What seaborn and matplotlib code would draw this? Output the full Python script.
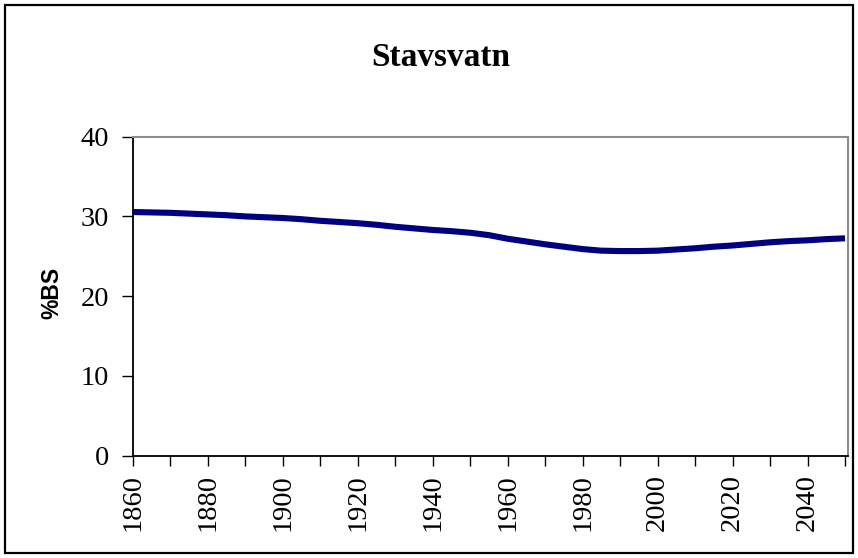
import matplotlib
matplotlib.use("Agg")
import matplotlib.pyplot as plt
from matplotlib.patches import Rectangle
import numpy as np
import pandas as pd
import seaborn as sns

# Stavsvatn: %BS (base saturation) over time
years = [1860, 1865, 1870, 1875, 1880, 1885, 1890, 1895, 1900, 1905,
         1910, 1915, 1920, 1925, 1930, 1935, 1940, 1945, 1950, 1955,
         1960, 1965, 1970, 1975, 1980, 1985, 1990, 1995, 2000, 2005,
         2010, 2015, 2020, 2025, 2030, 2035, 2040, 2045, 2050]
bs_percent = [30.55, 30.50, 30.45, 30.35, 30.25, 30.15, 30.00, 29.90, 29.80, 29.65,
              29.45, 29.30, 29.15, 28.95, 28.70, 28.50, 28.30, 28.15, 27.95, 27.65,
              27.20, 26.85, 26.50, 26.20, 25.90, 25.70, 25.65, 25.65, 25.70, 25.85,
              26.00, 26.20, 26.35, 26.55, 26.75, 26.90, 27.00, 27.15, 27.25]
y_ticks = [0, 10, 20, 30, 40]
x_major = [1860, 1880, 1900, 1920, 1940, 1960, 1980, 2000, 2020, 2040]
x_minor = [1870, 1890, 1910, 1930, 1950, 1970, 1990, 2010, 2030, 2050]
title = "Stavsvatn"
y_label = "%BS"

df = pd.DataFrame({"year": years, "bs": bs_percent})

sns.set_theme(style="white")
plt.rcParams["font.family"] = ["Liberation Serif", "DejaVu Serif"]

W, H = 858, 558
fig = plt.figure(figsize=(W / 100, H / 100), dpi=100)
fig.patch.set_facecolor("white")

left, right, top, bottom = 132.7, 848.0, 136.7, 455.5
ax = fig.add_axes([left / W, 1 - bottom / H, (right - left) / W, (bottom - top) / H])

sns.lineplot(data=df, x="year", y="bs", ax=ax, color="#000080",
             linewidth=4.4, solid_capstyle="butt", solid_joinstyle="round")

ax.set_xlim(1860, 2050.8)
ax.set_ylim(0, 40)
ax.set_yticks(y_ticks)
ax.set_yticklabels([str(v) for v in y_ticks])
ax.set_xticks(x_major)
ax.set_xticklabels([str(v) for v in x_major], rotation=90)
ax.set_xticks(x_minor, minor=True)

ax.tick_params(axis="y", which="major", direction="out", length=8, width=1.0,
               color="black", pad=9, labelsize=20.5, left=True)
ax.tick_params(axis="x", which="major", direction="out", length=7, width=1.0,
               color="black", pad=6.5, labelsize=20.5, bottom=True)
ax.tick_params(axis="x", which="minor", direction="out", length=7, width=1.0,
               color="black", bottom=True)
for lab in ax.get_xticklabels() + ax.get_yticklabels():
    lab.set_color("black")

ax.set_xlabel("")
ax.set_ylabel("")

for side in ("left", "bottom"):
    ax.spines[side].set_color("black")
    ax.spines[side].set_linewidth(1.3)
for side in ("top", "right"):
    ax.spines[side].set_color("#8c8c8c")
    ax.spines[side].set_linewidth(1.5)
ax.grid(False)

fig.text(441 / W, 1 - 57 / H, title, ha="center", va="center",
         fontsize=24, fontweight="bold", family=["Liberation Serif"], color="black")
fig.text(52 / W, 1 - 293 / H, y_label, ha="center", va="center", rotation=90,
         fontsize=16.5, fontweight="bold", family=["Liberation Sans"], color="black")

# outer chart frame
fig.patches.append(Rectangle((5 / W, 5 / H), (W - 10) / W, (H - 10) / H,
                             transform=fig.transFigure, fill=False,
                             edgecolor="black", linewidth=1.6))

fig.savefig("out.png", dpi=100, facecolor="white")
